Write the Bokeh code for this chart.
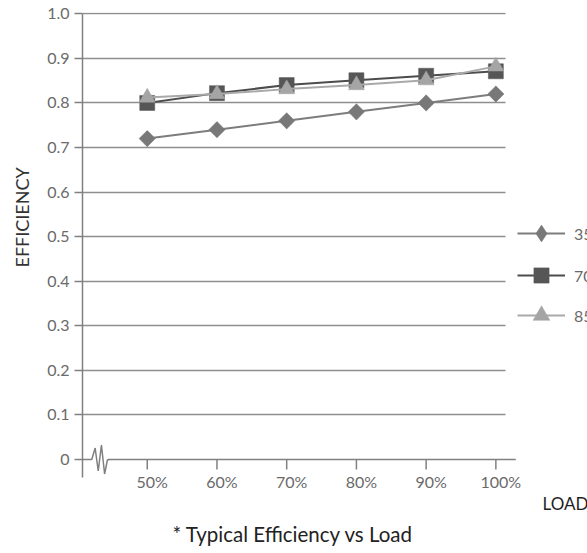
import math
from bokeh.plotting import figure
from bokeh.models import Range1d, FixedTicker, Legend, LegendItem, Grid, Title
from bokeh.embed import file_html
from bokeh.resources import INLINE

# ---------------- data ----------------
LOADS = ["50%", "60%", "70%", "80%", "90%", "100%"]
EFF_35 = [0.72, 0.74, 0.76, 0.78, 0.80, 0.82]
EFF_70 = [0.80, 0.822, 0.84, 0.851, 0.861, 0.871]
EFF_85 = [0.812, 0.82, 0.831, 0.84, 0.851, 0.882]
SERIES = ["35", "70", "85"]
Y_TICKS = [0.0, 0.1, 0.2, 0.3, 0.4, 0.5, 0.6, 0.7, 0.8, 0.9, 1.0]
Y_LABELS = ["0", "0.1", "0.2", "0.3", "0.4", "0.5", "0.6", "0.7", "0.8", "0.9", "1.0"]
X_TITLE = "LOAD"
Y_TITLE = "EFFICIENCY"
CAPTION = "* Typical Efficiency vs Load"

# ---------------- layout helpers (pixels -> data) ----------------
X_ORIGIN_PX, X_STEP_PX = 145.0, 70.0
Y_ORIGIN_PX, Y_UNIT_PX = 459.0, 445.7
FRAME_L, FRAME_R, FRAME_T, FRAME_B = 80, 587, 12, 477
LABEL_SHIFT_PX = 5


def xd(px):
    return (px - X_ORIGIN_PX) / X_STEP_PX


def yd(py):
    return (Y_ORIGIN_PX - py) / Y_UNIT_PX


FONT = "Lato"
GRID_COLOR = "#8e8e8e"
AXIS_COLOR = "#808080"
TICK_TEXT = "#6a6a6a"

W, H = 587, 553
p = figure(width=W, height=H, output_backend="svg", toolbar_location=None,
           x_range=Range1d(xd(FRAME_L), xd(FRAME_R)),
           y_range=Range1d(yd(FRAME_B), yd(FRAME_T)),
           min_border_left=FRAME_L, min_border_right=W - FRAME_R,
           min_border_top=FRAME_T, min_border_bottom=H - FRAME_B)
p.outline_line_color = None
p.background_fill_color = "white"
p.border_fill_color = "white"
# range used only to place the category labels a little right of their ticks
p.extra_x_ranges = {"labels": Range1d(xd(FRAME_L - LABEL_SHIFT_PX),
                                      xd(FRAME_R - LABEL_SHIFT_PX))}

# y axis
yax = p.yaxis[0]
yax.ticker = FixedTicker(ticks=Y_TICKS)
yax.major_label_overrides = {t: lab for t, lab in zip(Y_TICKS, Y_LABELS)}
yax.bounds = (yd(FRAME_B), Y_TICKS[-1])
yax.axis_line_color = AXIS_COLOR
yax.axis_line_width = 1.5
yax.major_tick_line_color = AXIS_COLOR
yax.major_tick_line_width = 1.5
yax.major_tick_out = 8
yax.major_tick_in = 0
yax.minor_tick_line_color = None
yax.major_label_text_font = FONT
yax.major_label_text_font_size = "16px"
yax.major_label_text_color = TICK_TEXT
yax.major_label_standoff = 5

# x axis (category labels, below the frame)
xs = list(range(len(LOADS)))
xax = p.xaxis[0]
xax.x_range_name = "labels"
xax.ticker = FixedTicker(ticks=xs)
xax.major_label_overrides = {i: lab for i, lab in enumerate(LOADS)}
xax.axis_line_color = None
xax.major_tick_line_color = None
xax.major_tick_out = 0
xax.major_tick_in = 0
xax.minor_tick_line_color = None
xax.major_label_text_font = FONT
xax.major_label_text_font_size = "16px"
xax.major_label_text_color = TICK_TEXT
xax.major_label_standoff = -6

# x axis rule at y = 0 with its ticks
p.segment(x0=xd(106), x1=xd(515), y0=Y_TICKS[0], y1=Y_TICKS[0],
          line_color=AXIS_COLOR, line_width=1.5)
p.segment(x0=xs, x1=xs, y0=[Y_TICKS[0]] * len(xs), y1=[yd(469)] * len(xs),
          line_color=AXIS_COLOR, line_width=1.5)

# axis break zigzag
brk_px = [(80, 459), (89.3, 459), (92.7, 447.5), (95.8, 470.5), (99, 444.5),
          (102.2, 473.5), (105, 459.5), (107, 459)]
p.line([xd(a) for a, b in brk_px], [yd(b) for a, b in brk_px],
       line_color=AXIS_COLOR, line_width=1.5)

# grid
p.xgrid.visible = False
yg = p.ygrid[0]
yg.ticker = FixedTicker(ticks=Y_TICKS[1:])
yg.grid_line_color = GRID_COLOR
yg.grid_line_width = 1.5
if "cross_bounds" in Grid.properties():
    yg.cross_bounds = (xd(FRAME_L), xd(505))
else:
    yg.visible = False
    p.segment(x0=xd(FRAME_L), x1=xd(505), y0=Y_TICKS[1:], y1=Y_TICKS[1:],
              line_color=GRID_COLOR, line_width=1.5)

C35_LINE, C35_MARK = "#7d7d7d", "#787878"
C70_LINE, C70_MARK = "#4c4c4c", "#565656"
C85_LINE, C85_MARK = "#a9a9a9", "#a5a5a5"

l35 = p.line(xs, EFF_35, line_color=C35_LINE, line_width=2)
# diamond glyph (used by the legend) sits under the rotated squares
d35 = p.scatter(xs, EFF_35, marker="diamond", size=15,
                fill_color=C35_MARK, line_color=C35_MARK, line_width=0.5)
m35 = p.scatter(xs, EFF_35, marker="square", size=11.5, angle=math.pi / 4,
                fill_color=C35_MARK, line_color=C35_MARK, line_width=0.5)

l70 = p.line(xs, EFF_70, line_color=C70_LINE, line_width=2)
m70 = p.scatter(xs, EFF_70, marker="square", size=15,
                fill_color=C70_MARK, line_color=C70_MARK, line_width=0.5)

l85 = p.line(xs, EFF_85, line_color=C85_LINE, line_width=2)
m85 = p.scatter(xs, EFF_85, marker="triangle", size=16,
                fill_color=C85_MARK, line_color=C85_MARK, line_width=0.5)

# one legend per series so that each marker keeps its own size
LEG_X = 515 - FRAME_L
for label, rends, center, gh in [(SERIES[0], [l35, d35], 233, 42),
                                 (SERIES[1], [l70, m70], 275, 38),
                                 (SERIES[2], [l85, m85], 315, 42)]:
    leg = Legend(items=[LegendItem(label=label, renderers=rends)],
                 location=(LEG_X, FRAME_B - center - gh / 2),
                 glyph_width=48, glyph_height=gh, label_height=gh,
                 padding=0, margin=0, spacing=0, label_standoff=9,
                 border_line_color=None, background_fill_alpha=0,
                 label_text_font=FONT, label_text_font_size="16px",
                 label_text_color=TICK_TEXT)
    p.add_layout(leg)

# axis titles and caption
p.add_layout(Title(text=Y_TITLE, align="left", offset=FRAME_B - 267,
                   vertical_align="top", standoff=20,
                   text_font=FONT, text_font_size="18px",
                   text_font_style="normal", text_color="#333333"), "left")
p.add_layout(Title(text=X_TITLE, align="left", offset=540 - FRAME_L,
                   vertical_align="top", standoff=-2,
                   text_font=FONT, text_font_size="17px",
                   text_font_style="normal", text_color="#1e1e1e"), "below")
p.add_layout(Title(text=CAPTION, align="left", offset=170 - FRAME_L,
                   vertical_align="bottom", standoff=11,
                   text_font=FONT, text_font_size="20.5px",
                   text_font_style="normal", text_color="#222222"), "below")

open("out.html", "w").write(file_html(p, INLINE))
